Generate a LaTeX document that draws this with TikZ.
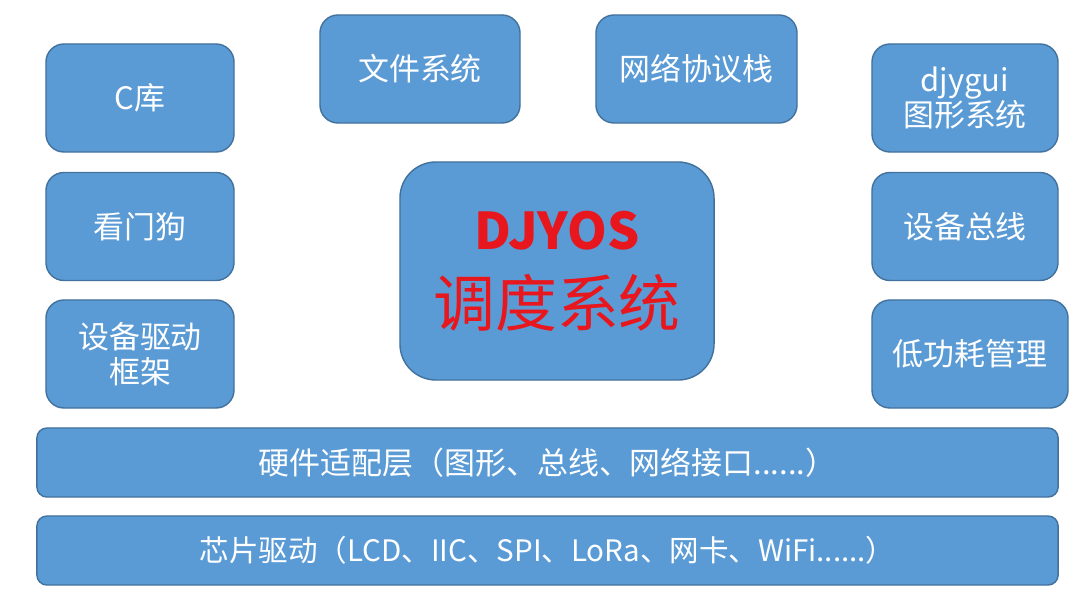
\documentclass[tikz,border=0pt]{standalone}
\usepackage{fontspec}
\setmainfont{Noto Sans CJK SC}
\definecolor{boxblue}{HTML}{5B9BD5}
\definecolor{edgeblue}{HTML}{41719C}
\definecolor{corered}{HTML}{E8161D}
\begin{document}
\begin{tikzpicture}[
    x=0.025cm, y=-0.025cm,
    module/.style={draw=edgeblue, fill=boxblue, line width=1pt, rounded corners=0.45cm,
                   text=white, align=center, inner sep=0pt, font=\fontsize{22}{25}\selectfont,
                   minimum width=4.7cm, minimum height=2.7cm},
    layer/.style={module, rounded corners=0.25cm, minimum width=25.525cm, minimum height=1.725cm}
]

\useasboundingbox (0,0) rectangle (1080,598);

% left column
\node[module] (clib) at (140,98) {C库};
\node[module] (watchdog) at (140,226.5) {看门狗};
\node[module] (drvframe) at (140,354) {设备驱动\\框架};

% top row
\node[module, minimum width=5cm] (filesys) at (420,69) {文件系统};
\node[module, minimum width=5.025cm] (netstack) at (696.5,69) {网络协议栈};

% right column
\node[module, minimum width=4.65cm] (gui) at (965,98) {djygui\\图形系统};
\node[module, minimum width=4.65cm] (bus) at (965,226.5) {设备总线};
\node[module, minimum width=4.9cm] (power) at (970,354) {低功耗管理};

% scheduler
\node[module, rounded corners=0.9cm, minimum width=7.85cm, minimum height=5.45cm,
      text=corered, font=\fontsize{44}{55}\selectfont] (core) at (557,271)
      {{\fontsize{36}{40}\selectfont\bfseries DJYOS}\\调度系统};

% layers
\node[layer] (hal) at (547.5,462.5) {硬件适配层（图形、总线、网络接口......）};
\node[layer, font=\fontsize{21}{25}\selectfont] (chip) at (547.5,550.5) {芯片驱动（LCD、IIC、SPI、LoRa、网卡、WiFi......）};

\end{tikzpicture}
\end{document}
